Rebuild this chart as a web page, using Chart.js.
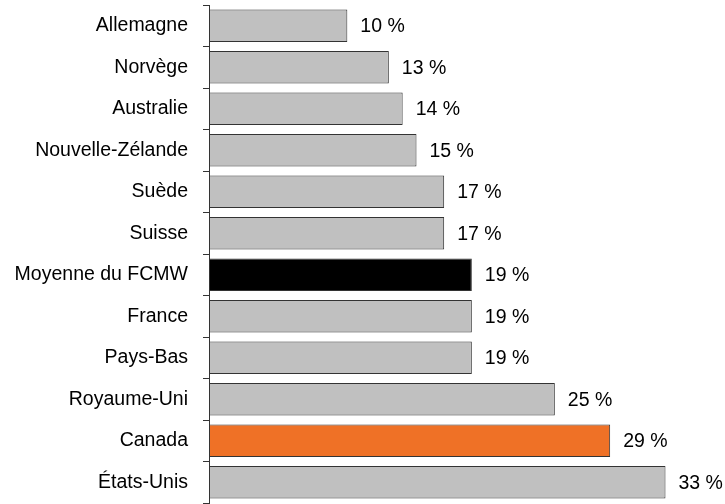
<!DOCTYPE html>
<html lang="fr">
<head>
  <meta charset="UTF-8" />
  <title>Part en pourcentage</title>
  <script src="https://cdn.jsdelivr.net/npm/chart.js"></script>
  <style>
    html, body { margin: 0; padding: 0; background: #fff; }
    #wrap { position: relative; width: 725px; height: 504px; }
  </style>
</head>
<body>
<div id="wrap">
  <canvas id="pays"></canvas>
</div>

<script>
const categories = ['Allemagne', 'Norvège', 'Australie', 'Nouvelle-Zélande', 'Suède', 'Suisse',
  'Moyenne du FCMW', 'France', 'Pays-Bas', 'Royaume-Uni', 'Canada', 'États-Unis'];
const values = [10, 13, 14, 15, 17, 17, 19, 19, 19, 25, 29, 33];
const barColors = ['#c0c0c0', '#c0c0c0', '#c0c0c0', '#c0c0c0', '#c0c0c0', '#c0c0c0',
  '#000000', '#c0c0c0', '#c0c0c0', '#c0c0c0', '#ef7126', '#c0c0c0'];

const font = { family: '"Liberation Sans", Arial, sans-serif', size: 19.5 };

// écrit « xx % » à droite de chaque barre
const valueLabels = {
  id: 'valueLabels',
  afterDatasetsDraw(chart) {
    const ctx = chart.ctx;
    const meta = chart.getDatasetMeta(0);
    ctx.save();
    ctx.font = font.size + 'px ' + font.family;
    ctx.fillStyle = '#000';
    ctx.textAlign = 'left';
    ctx.textBaseline = 'middle';
    meta.data.forEach((bar, i) => {
      ctx.fillText(values[i] + ' %', bar.x + 13, bar.y + 1);
    });
    ctx.restore();
  }
};

new Chart(document.getElementById('pays'), {
  type: 'bar',
  data: {
    labels: categories,
    datasets: [{
      data: values,
      backgroundColor: barColors,
      borderColor: '#333333',
      borderWidth: 1,
      borderSkipped: false,
      barPercentage: 0.78,
      categoryPercentage: 1
    }]
  },
  options: {
    indexAxis: 'y',
    responsive: true,
    maintainAspectRatio: false,
    animation: false,
    layout: { padding: { top: 5, bottom: 1, right: 18, left: 0 } },
    plugins: { legend: { display: false }, tooltip: { enabled: false } },
    scales: {
      x: { display: false, min: 0, max: 36 },
      y: {
        afterFit(scale) {
          scale.width = 209;
          scale.paddingTop = 0;
          scale.paddingBottom = 0;
        },
        border: { display: true, color: '#333', width: 1 },
        grid: {
          offset: true,
          drawOnChartArea: false,
          drawTicks: true,
          tickLength: 6,
          color: '#333'
        },
        ticks: { color: '#000', font: font, padding: 15 }
      }
    }
  },
  plugins: [valueLabels]
});
</script>
</body>
</html>
